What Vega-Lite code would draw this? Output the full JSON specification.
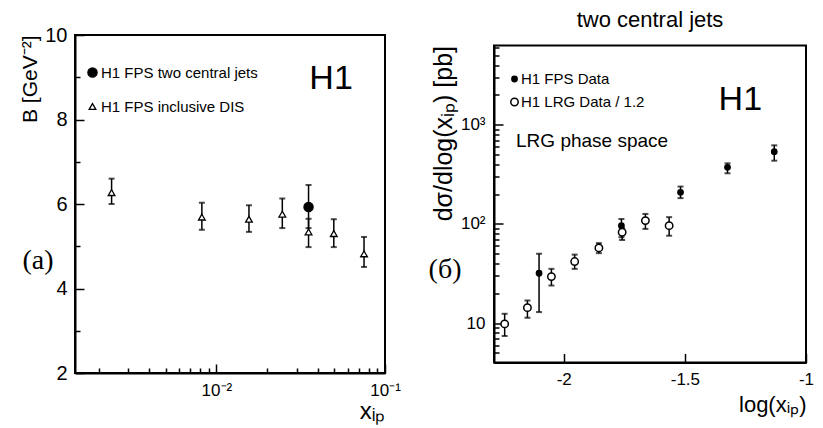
{
  "$schema": "https://vega.github.io/schema/vega-lite/v6.json",
  "background": "white",
  "padding": {"left": 18, "top": 7, "right": 5, "bottom": 5},
  "spacing": 109,
  "bounds": "flush",
  "center": true,
  "config": {
    "font": "Liberation Sans",
    "view": {"stroke": "black", "strokeWidth": 2},
    "axis": {"domainColor": "black", "domainWidth": 2, "tickColor": "black", "tickWidth": 1.5, "labelColor": "black", "titleColor": "black", "grid": false, "labelFont": "Liberation Sans", "titleFont": "Liberation Sans", "titleFontWeight": "normal", "labelFlush": false, "labelOverlap": false},
    "legend": {"labelFont": "Liberation Sans", "labelColor": "black", "padding": 0}
  },
  "resolve": {
    "scale": {"shape": "independent", "fill": "independent", "size": "independent", "stroke": "independent"},
    "legend": {"shape": "independent", "fill": "independent", "size": "independent", "stroke": "independent"}
  },
  "hconcat": [
    {
      "width": 310,
      "height": 338,
      "data": {"values": [
        {"xip": 0.00239, "B": 6.27, "lo": 6.00, "hi": 6.60, "series": "H1 FPS inclusive DIS"},
        {"xip": 0.0082, "B": 5.69, "lo": 5.39, "hi": 6.03, "series": "H1 FPS inclusive DIS"},
        {"xip": 0.0156, "B": 5.64, "lo": 5.34, "hi": 5.97, "series": "H1 FPS inclusive DIS"},
        {"xip": 0.0246, "B": 5.76, "lo": 5.43, "hi": 6.13, "series": "H1 FPS inclusive DIS"},
        {"xip": 0.0352, "B": 5.34, "lo": 4.98, "hi": 5.65, "series": "H1 FPS inclusive DIS"},
        {"xip": 0.0497, "B": 5.30, "lo": 4.98, "hi": 5.64, "series": "H1 FPS inclusive DIS"},
        {"xip": 0.0751, "B": 4.82, "lo": 4.51, "hi": 5.22, "series": "H1 FPS inclusive DIS"},
        {"xip": 0.0352, "B": 5.93, "lo": 5.43, "hi": 6.45, "series": "H1 FPS two central jets"}
      ]},
      "layer": [
        {
          "mark": {"type": "rule", "color": "black", "strokeWidth": 1.5},
          "encoding": {
            "x": {
              "field": "xip", "type": "quantitative",
              "scale": {"type": "log", "domain": [0.00145, 0.1], "nice": false},
              "axis": {
                "values": [0.002, 0.003, 0.004, 0.005, 0.006, 0.007, 0.008, 0.009, 0.01, 0.02, 0.03, 0.04, 0.05, 0.06, 0.07, 0.08, 0.09, 0.1],
                "labelExpr": "abs(datum.value - 0.01) < 1e-9 ? '10⁻²' : (abs(datum.value - 0.1) < 1e-9 ? '10⁻¹' : '')",
                "tickSize": {"condition": {"test": "abs(datum.value - 0.01) < 1e-9 || abs(datum.value - 0.1) < 1e-9", "value": -9}, "value": -5},
                "labelOverlap": false,
                "labelFontSize": 17,
                "labelPadding": 18,
                "title": "xᵢₚ",
                "titleFontSize": 24,
                "titleAnchor": "end",
                "titlePadding": -3
              }
            },
            "y": {
              "field": "lo", "type": "quantitative",
              "scale": {"domain": [2, 10], "nice": false, "zero": false},
              "axis": {
                "values": [2, 2.5, 3, 3.5, 4, 4.5, 5, 5.5, 6, 6.5, 7, 7.5, 8, 8.5, 9, 9.5, 10],
                "labelExpr": "datum.value % 2 == 0 ? datum.label : ''",
                "tickSize": {"condition": {"test": "datum.value % 2 == 0", "value": -9}, "value": -5},
                "labelOverlap": false,
                "labelFontSize": 20,
                "labelPadding": 17,
                "title": "B [GeV⁻²]",
                "titleFontSize": 21,
                "titleAnchor": "end",
                "titlePadding": 4
              }
            },
            "y2": {"field": "hi"}
          }
        },
        {
          "mark": {"type": "tick", "orient": "horizontal", "size": 6, "thickness": 2, "color": "black"},
          "encoding": {"x": {"field": "xip", "type": "quantitative"}, "y": {"field": "lo", "type": "quantitative"}}
        },
        {
          "mark": {"type": "tick", "orient": "horizontal", "size": 6, "thickness": 2, "color": "black"},
          "encoding": {"x": {"field": "xip", "type": "quantitative"}, "y": {"field": "hi", "type": "quantitative"}}
        },
        {
          "mark": {"type": "point", "strokeWidth": 1.3, "opacity": 1, "fillOpacity": 1},
          "encoding": {
            "x": {"field": "xip", "type": "quantitative"},
            "y": {"field": "B", "type": "quantitative"},
            "shape": {"field": "series", "type": "nominal",
              "scale": {"domain": ["H1 FPS two central jets", "H1 FPS inclusive DIS"], "range": ["circle", "triangle-up"]},
              "legend": {"orient": "none", "legendX": 10, "legendY": 30, "title": null, "labelFontSize": 15, "rowPadding": 18, "labelOffset": 1, "symbolStrokeWidth": 1.3}},
            "fill": {"field": "series", "type": "nominal",
              "scale": {"domain": ["H1 FPS two central jets", "H1 FPS inclusive DIS"], "range": ["black", "white"]},
              "legend": {"orient": "none", "legendX": 10, "legendY": 30, "title": null, "labelFontSize": 15, "rowPadding": 18, "labelOffset": 1, "symbolStrokeWidth": 1.3}},
            "stroke": {"field": "series", "type": "nominal",
              "scale": {"domain": ["H1 FPS two central jets", "H1 FPS inclusive DIS"], "range": ["black", "black"]},
              "legend": {"orient": "none", "legendX": 10, "legendY": 30, "title": null, "labelFontSize": 15, "rowPadding": 18, "labelOffset": 1, "symbolStrokeWidth": 1.3}},
            "size": {"field": "series", "type": "nominal",
              "scale": {"domain": ["H1 FPS two central jets", "H1 FPS inclusive DIS"], "range": [85, 45]},
              "legend": {"orient": "none", "legendX": 10, "legendY": 30, "title": null, "labelFontSize": 15, "rowPadding": 18, "labelOffset": 1, "symbolStrokeWidth": 1.3}}
          }
        },
        {
          "data": {"values": [{}]},
          "mark": {"type": "text", "text": "H1", "fontSize": 34, "align": "center", "baseline": "middle", "color": "black"},
          "encoding": {"x": {"datum": 0.0479}, "y": {"datum": 8.96}}
        },
        {
          "data": {"values": [{}]},
          "mark": {"type": "text", "text": "(a)", "font": "Liberation Serif", "fontSize": 28, "align": "center", "baseline": "middle", "color": "black"},
          "encoding": {"x": {"datum": 0.000875}, "y": {"datum": 4.65}}
        }
      ]
    },
    {
      "width": 312,
      "height": 317,
      "title": {"text": "two central jets", "fontSize": 22, "fontWeight": "normal", "font": "Liberation Sans", "anchor": "middle", "offset": 7, "color": "black"},
      "data": {"values": [
        {"lx": -2.102, "v": 31.8, "lo": 12.9, "hi": 50, "series": "H1 FPS Data"},
        {"lx": -1.762, "v": 96, "lo": 73.5, "hi": 112, "series": "H1 FPS Data"},
        {"lx": -1.518, "v": 208, "lo": 182, "hi": 238, "series": "H1 FPS Data"},
        {"lx": -1.324, "v": 372, "lo": 324, "hi": 408, "series": "H1 FPS Data"},
        {"lx": -1.131, "v": 535, "lo": 434, "hi": 620, "series": "H1 FPS Data"},
        {"lx": -2.244, "v": 9.8, "lo": 7.4, "hi": 12.4, "series": "H1 LRG Data / 1.2"},
        {"lx": -2.150, "v": 14.3, "lo": 11.3, "hi": 16.9, "series": "H1 LRG Data / 1.2"},
        {"lx": -2.051, "v": 29.4, "lo": 23.9, "hi": 35.2, "series": "H1 LRG Data / 1.2"},
        {"lx": -1.955, "v": 41.7, "lo": 35.2, "hi": 49, "series": "H1 LRG Data / 1.2"},
        {"lx": -1.855, "v": 57.3, "lo": 50.7, "hi": 64, "series": "H1 LRG Data / 1.2"},
        {"lx": -1.759, "v": 82.4, "lo": 69, "hi": 90.6, "series": "H1 LRG Data / 1.2"},
        {"lx": -1.663, "v": 108, "lo": 89, "hi": 126, "series": "H1 LRG Data / 1.2"},
        {"lx": -1.565, "v": 96, "lo": 76, "hi": 117, "series": "H1 LRG Data / 1.2"}
      ]},
      "layer": [
        {
          "mark": {"type": "rule", "color": "black", "strokeWidth": 1.5},
          "encoding": {
            "x": {
              "field": "lx", "type": "quantitative",
              "scale": {"domain": [-2.288, -1], "nice": false, "zero": false},
              "axis": {
                "values": [-2, -1.5, -1],
                "labelExpr": "datum.value < -1.75 ? '-2' : (datum.value < -1.25 ? '-1.5' : '-1')",
                "tickSize": -9,
                "labelOverlap": false,
                "labelFontSize": 17,
                "labelPadding": 18,
                "title": "log(xᵢₚ)",
                "titleFontSize": 22,
                "titleAnchor": "end",
                "titlePadding": 7
              }
            },
            "y": {
              "field": "lo", "type": "quantitative",
              "scale": {"type": "log", "domain": [4, 6300], "nice": false},
              "axis": {
                "values": [4, 5, 6, 7, 8, 9, 10, 20, 30, 40, 50, 60, 70, 80, 90, 100, 200, 300, 400, 500, 600, 700, 800, 900, 1000, 2000, 3000, 4000, 5000, 6000],
                "labelExpr": "datum.value == 10 ? '10' : (datum.value == 100 ? '10²' : (datum.value == 1000 ? '10³' : ''))",
                "tickSize": {"condition": {"test": "datum.value == 10 || datum.value == 100 || datum.value == 1000", "value": -9}, "value": -5},
                "labelOverlap": false,
                "labelFontSize": 17,
                "labelPadding": 18,
                "title": "dσ/dlog(xᵢₚ) [pb]",
                "titleFontSize": 25,
                "titleAnchor": "end",
                "titlePadding": 4
              }
            },
            "y2": {"field": "hi"}
          }
        },
        {
          "mark": {"type": "tick", "orient": "horizontal", "size": 6, "thickness": 2, "color": "black"},
          "encoding": {"x": {"field": "lx", "type": "quantitative"}, "y": {"field": "lo", "type": "quantitative"}}
        },
        {
          "mark": {"type": "tick", "orient": "horizontal", "size": 6, "thickness": 2, "color": "black"},
          "encoding": {"x": {"field": "lx", "type": "quantitative"}, "y": {"field": "hi", "type": "quantitative"}}
        },
        {
          "mark": {"type": "point", "shape": "circle", "strokeWidth": 1.5, "opacity": 1, "fillOpacity": 1},
          "encoding": {
            "x": {"field": "lx", "type": "quantitative"},
            "y": {"field": "v", "type": "quantitative"},
            "fill": {"field": "series", "type": "nominal",
              "scale": {"domain": ["H1 FPS Data", "H1 LRG Data / 1.2"], "range": ["black", "white"]},
              "legend": {"orient": "none", "legendX": 13, "legendY": 26, "title": null, "labelFontSize": 15, "rowPadding": 7, "labelOffset": -1, "symbolStrokeWidth": 1.5}},
            "stroke": {"field": "series", "type": "nominal",
              "scale": {"domain": ["H1 FPS Data", "H1 LRG Data / 1.2"], "range": ["black", "black"]},
              "legend": {"orient": "none", "legendX": 13, "legendY": 26, "title": null, "labelFontSize": 15, "rowPadding": 7, "labelOffset": -1, "symbolStrokeWidth": 1.5}},
            "size": {"field": "series", "type": "nominal",
              "scale": {"domain": ["H1 FPS Data", "H1 LRG Data / 1.2"], "range": [28, 55]},
              "legend": {"orient": "none", "legendX": 13, "legendY": 26, "title": null, "labelFontSize": 15, "rowPadding": 7, "labelOffset": -1, "symbolStrokeWidth": 1.5}}
          }
        },
        {
          "data": {"values": [{}]},
          "mark": {"type": "text", "text": "H1", "fontSize": 34, "align": "center", "baseline": "middle", "color": "black"},
          "encoding": {"x": {"datum": -1.271}, "y": {"datum": 1774}}
        },
        {
          "data": {"values": [{}]},
          "mark": {"type": "text", "text": "LRG phase space", "fontSize": 19, "align": "left", "baseline": "middle", "color": "black"},
          "encoding": {"x": {"datum": -2.197}, "y": {"datum": 685}}
        },
        {
          "data": {"values": [{}]},
          "mark": {"type": "text", "text": "(б)", "font": "Liberation Serif", "fontSize": 28, "align": "center", "baseline": "middle", "color": "black"},
          "encoding": {"x": {"datum": -2.49}, "y": {"datum": 34.4}}
        }
      ]
    }
  ]
}
